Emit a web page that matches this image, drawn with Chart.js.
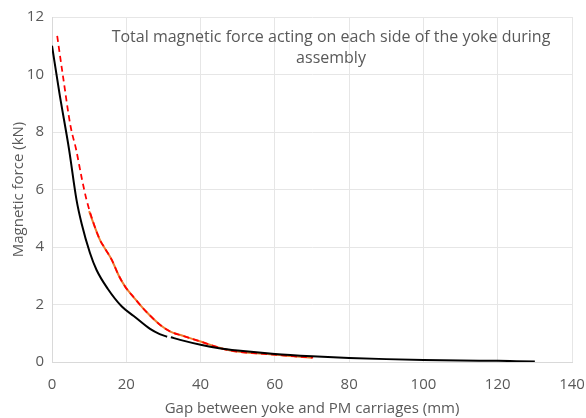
<!DOCTYPE html>
<html>
<head>
<meta charset="utf-8">
<script src="https://cdn.jsdelivr.net/npm/chart.js@4"></script>
<style>
  html, body { margin: 0; padding: 0; background: #fff; }
  #wrap { position: relative; width: 586px; height: 418px; }
  #chartTitle {
    position: absolute; left: 100px; width: 462px; top: 26px;
    text-align: center; font: 16px "Open Sans", sans-serif; color: #595959;
    line-height: 21px; pointer-events: none;
  }
</style>
</head>
<body>
<div id="wrap">
  <canvas id="forceChart" width="586" height="418"></canvas>
  <div id="chartTitle">Total magnetic force acting on each side of the yoke during assembly</div>
</div>
<script>
// Black curve, first piece (gap near 31 mm)
const blackGapA = [0, 2, 4.6, 6.6, 8, 10.2, 12, 15, 18.8, 22, 26.4, 29, 31];
const blackForceA = [11.0, 9.35, 7.39, 5.64, 4.8, 3.8, 3.2, 2.55, 1.93, 1.6, 1.15, 0.97, 0.88];

// Black curve, second piece
const blackGapB = [32, 34.5, 40, 45, 50, 60, 70, 80, 90, 100, 110, 120, 125, 130];
const blackForceB = [0.86, 0.77, 0.6, 0.48, 0.4, 0.28, 0.2, 0.14, 0.1, 0.07, 0.05, 0.04, 0.03, 0.02];

// Red dashed curve
const redGap = [1.4, 3, 5, 6.5, 8, 9.3, 11, 12.9, 14, 16.1, 18, 19.7, 22, 25, 29.5, 32, 35, 39.8, 45, 48, 55, 58.7, 65, 70.3];
const redForce = [11.34, 9.9, 8.2, 7.39, 6.4, 5.64, 4.9, 4.25, 4.0, 3.55, 3.0, 2.62, 2.25, 1.8, 1.25, 1.05, 0.92, 0.72, 0.5, 0.4, 0.3, 0.27, 0.2, 0.15];

// Orange solid curve underneath the red dashes
const orangeGap = [10, 11, 12.9, 14, 16.1, 18, 19.7, 22, 25, 29.5, 32, 35, 39.8, 45, 48, 55, 58.7, 65, 70];
const orangeForce = [5.25, 4.88, 4.25, 4.0, 3.55, 3.0, 2.62, 2.25, 1.8, 1.25, 1.05, 0.92, 0.72, 0.5, 0.4, 0.3, 0.27, 0.2, 0.15];

const xTicks = [0, 20, 40, 60, 80, 100, 120, 140];
const yTicks = [0, 2, 4, 6, 8, 10, 12];

const toPoints = (xs, ys) => xs.map((x, i) => ({ x, y: ys[i] }));

const textColor = '#595959';
const gridColor = '#e6e6e6';
const tickFont = { family: '"Open Sans", sans-serif', size: 15 };
const titleFont = { family: '"Open Sans", sans-serif', size: 15 };

const ctx = document.getElementById('forceChart').getContext('2d');

new Chart(ctx, {
    type: 'scatter',
    data: {
        datasets: [
            {
                label: 'Orange',
                data: toPoints(orangeGap, orangeForce),
                showLine: true,
                borderColor: '#ED7D31',
                borderWidth: 2,
                pointRadius: 0,
                cubicInterpolationMode: 'monotone',
                order: 3
            },
            {
                label: 'Red',
                data: toPoints(redGap, redForce),
                showLine: true,
                borderColor: '#FF0000',
                borderWidth: 1.75,
                borderDash: [6, 4],
                pointRadius: 0,
                cubicInterpolationMode: 'monotone',
                order: 2
            },
            {
                label: 'Black A',
                data: toPoints(blackGapA, blackForceA),
                showLine: true,
                borderColor: '#000000',
                borderWidth: 2,
                pointRadius: 0,
                cubicInterpolationMode: 'monotone',
                order: 1
            },
            {
                label: 'Black B',
                data: toPoints(blackGapB, blackForceB),
                showLine: true,
                borderColor: '#000000',
                borderWidth: 2,
                pointRadius: 0,
                cubicInterpolationMode: 'monotone',
                order: 1
            }
        ]
    },
    options: {
        responsive: false,
        animation: false,
        layout: {
            padding: { top: 14, right: 0, left: 10, bottom: 0 }
        },
        scales: {
            x: {
                type: 'linear',
                min: 0,
                max: 140,
                afterBuildTicks: (axis) => { axis.ticks = xTicks.map((v) => ({ value: v })); },
                afterFit: (axis) => {
                    axis.height = 56;
                    axis.paddingRight = 14;
                    axis.paddingLeft = 0;
                },
                grid: { color: gridColor, drawTicks: false },
                border: { color: '#d9d9d9' },
                ticks: { color: textColor, font: tickFont, padding: 14 },
                title: {
                    display: true,
                    text: 'Gap between yoke and PM carriages (mm)',
                    color: textColor,
                    font: titleFont,
                    padding: { top: 0, bottom: 0 }
                }
            },
            y: {
                min: 0,
                max: 12,
                afterBuildTicks: (axis) => { axis.ticks = yTicks.map((v) => ({ value: v })); },
                afterFit: (axis) => { axis.width = 42; },
                grid: { color: gridColor, drawTicks: false },
                border: { color: '#d9d9d9' },
                ticks: { color: textColor, font: tickFont, padding: 8 },
                title: {
                    display: true,
                    text: 'Magnetic force (kN)',
                    color: textColor,
                    font: titleFont,
                    padding: { top: 0, bottom: 0 }
                }
            }
        },
        plugins: {
            legend: { display: false },
            tooltip: { enabled: false }
        }
    }
});
</script>
</body>
</html>
